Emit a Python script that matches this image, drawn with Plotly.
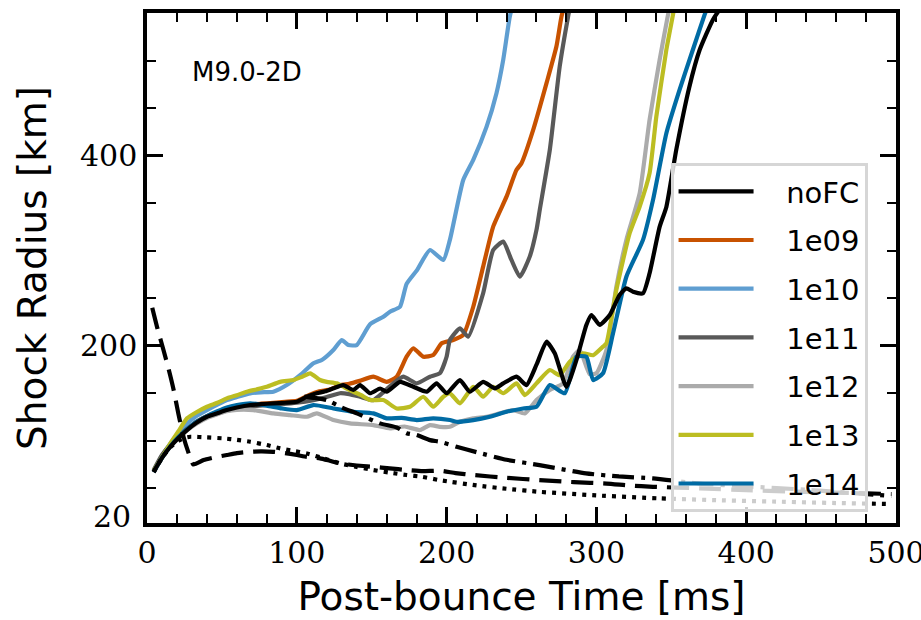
import plotly.graph_objects as go

# ---------------- data ----------------
t_nofc = [4.4, 10, 15.5, 21, 26.7, 33, 40, 47, 53.3, 60, 68.9, 76, 84.4, 92, 100, 106.7, 113.3, 119, 124.4,
          131, 137.8, 142.2, 148.9, 155.6, 160, 168.9, 177.8, 186.7, 193.3, 200, 208.9, 215.5, 224.4, 232.2,
          237.8, 246.7, 253.3, 260, 266.7, 272.2, 280, 286.7, 293.3, 296.7, 302.2, 308.9, 315.5, 320, 324.4,
          331.1, 335.5, 342.2, 346.7, 353.3, 362, 368.9, 377.8, 385]
r_nofc = [67.4, 82, 93.7, 103, 111.3, 119, 125.3, 129, 132.3, 135, 137.6, 138.5, 139.4, 140, 141, 146.3, 149.9,
          152, 155.2, 158.6, 153.4, 158.6, 150, 155, 151.6, 162, 156.8, 151.6, 160.4, 150, 163.9, 151.6, 162,
          155.2, 160.4, 167.4, 158.6, 180, 204.2, 192, 156.8, 185, 221.8, 232.3, 221.8, 232.3, 253.4, 260.4,
          256.8, 255.2, 276.2, 325, 346, 406, 472, 511, 543, 560]

t_1e09 = [4.4, 10, 15.5, 21, 26.7, 33, 40, 47, 53.3, 60, 68.9, 76, 84.4, 92, 100, 108, 115, 122, 128.9, 135, 142,
          151.1, 160, 166.7, 173.3, 177.8, 184.4, 191.1, 196.7, 204.4, 211.1, 217.8, 224.4, 231.1, 240, 246.7,
          250, 257.8, 266.7, 273.3, 276.7, 280]
r_1e09 = [67, 82.5, 94.5, 104, 112, 120, 126, 130, 133, 135.5, 138, 139, 140, 141, 142, 148, 152, 154, 158.6, 160,
          163, 167.4, 162, 167.4, 188.4, 197.3, 188.4, 190.2, 202.5, 206, 211.3, 241, 283.2, 325.3, 356.8, 385,
          392, 427, 476.2, 514.7, 546.3, 565]

t_1e10 = [4.4, 10, 15.5, 21, 26.7, 33, 40, 47, 53.3, 60, 68.9, 76, 84.4, 93.3, 102.2, 111.1, 116.7, 124.4, 130,
          134.4, 140, 148.9, 157.8, 162.2, 168.9, 173.3, 180, 188.9, 197.8, 202.2, 211.1, 217.8, 226.7, 233.3,
          237.8, 242.2, 246]
r_1e10 = [67.5, 84, 97, 108, 118, 126, 132.3, 138, 142.8, 146, 149.9, 151, 151.6, 158.6, 169, 181.5, 185, 195.5,
          206, 200.7, 200.7, 222.5, 230.5, 235.8, 241, 265, 279, 300.7, 290.2, 311.3, 374.4, 395.5, 430.5,
          465.7, 500.7, 546.3, 570]

t_1e11 = [4.4, 10, 15.5, 21, 26.7, 33, 40, 47, 53.3, 60, 68.9, 80, 90, 100, 111.1, 120, 128.9, 135, 142.2, 151,
          157, 164.4, 171.1, 180, 188.9, 195.5, 200, 202.2, 208.9, 214.4, 224.4, 231.1, 237.8, 243.3, 248.9,
          255.5, 260, 262.2, 268.9, 275.5, 281.1, 284]
r_1e11 = [69, 85, 96, 105, 112.5, 119.5, 125, 128.5, 131.5, 134, 136, 137.5, 138.5, 140, 142.8, 146, 150, 149,
          146.3, 142.8, 150, 160.4, 167.4, 160.4, 167.4, 171, 188.4, 206, 218.3, 209.5, 255.2, 300.7, 309.5,
          290.2, 272.6, 293.7, 321.8, 343, 406, 493.7, 546.3, 570]

t_1e12 = [4.4, 10, 15.5, 21, 26.7, 33, 40, 47, 53.3, 60, 71, 84.4, 95.5, 106.7, 113.3, 124.4, 135.5, 151.1,
          162.2, 172, 182.2, 188.9, 195.5, 202.2, 208.9, 217.8, 226.7, 235.5, 244.4, 252.2, 260, 268.9, 277.8,
          284.4, 288.9, 295.5, 300, 306.7, 313.3, 320, 328.9, 335.5, 342.2, 347.8, 350]
r_1e12 = [67, 82, 94, 103, 111, 118, 124, 128, 131, 132.5, 132.3, 128.8, 127, 125.3, 128.8, 121.8, 118.3, 116.5,
          113, 115, 111.3, 116.5, 114.7, 114.7, 120, 123.6, 125.3, 128.8, 132.3, 128.8, 142.8, 153.4, 160.4,
          188.4, 195.5, 170, 171, 195.5, 262, 311.3, 360.4, 437.6, 500.7, 548, 565]

t_1e13 = [4.4, 8.9, 15.5, 21, 26.7, 33, 40, 47, 53.3, 60, 66.7, 73, 80, 88.9, 97.8, 103, 108.9, 115.5, 120,
          126.7, 132, 137.8, 143, 148.9, 157.8, 166.7, 175.5, 184.4, 191.1, 197.8, 202.2, 208.9, 217.8, 224.4,
          231.1, 237.8, 246.7, 252.2, 260, 268.9, 275.5, 282.2, 291.1, 297.8, 304.4, 306.7, 313.3, 322.2, 328.9,
          335.5, 340, 346.7, 351.1, 353]
r_1e13 = [68, 79.7, 97, 110, 123.6, 130, 135.8, 140, 144.6, 148, 151.6, 154, 156.8, 162, 163.9, 167, 170.9, 163.9,
          162, 160.4, 156, 151.6, 148, 142.8, 142.8, 134, 135.8, 146.3, 135.8, 146.3, 150, 139.4, 156.8, 146.3,
          156.8, 150, 160.4, 148.1, 160.4, 174.4, 169, 183.2, 192, 190, 199, 202.5, 258.6, 318.3, 346.3, 381.5,
          441, 511.3, 548, 565]

t_1e14 = [4.4, 10, 15.5, 21, 26.7, 33, 40, 47, 53.3, 60, 68.9, 80, 90, 100, 111.1, 124.4, 137.8, 151.1, 160, 170,
          180, 191.1, 202.2, 206.7, 217.8, 228.9, 240, 251.1, 260, 268.9, 278.9, 286.7, 293.3, 297.8, 304.4,
          311.1, 320, 331.1, 337.8, 346.7, 355.5, 364.4, 372.2, 375]
r_1e14 = [67, 82, 94, 104, 112, 120, 126, 131, 135, 137.5, 139.4, 137, 134, 132.3, 137.6, 134, 130.5, 128.8,
          123.6, 124, 121.8, 123.6, 121.8, 120, 121.8, 125.3, 130.5, 134, 135.8, 158.6, 150, 188.4, 188.4, 163.9,
          171, 213, 272.6, 311.3, 353.4, 423.6, 469.2, 511.3, 548, 560]

# reference radii (black, no legend entry)
t_ref_dash = [3.5, 7, 11, 14.5, 17.8, 21, 24.4, 28, 31, 37.8, 45, 53.3, 60, 68.9, 76, 84.4, 92, 100, 107, 115.5,
              122, 128.9, 140, 151.1, 162, 173.3, 184, 195.5, 206, 217.8, 240, 262, 285, 306.7, 322, 337.8, 369,
              400, 430, 460, 497]
r_ref_dash = [240, 218, 195.5, 175, 153.4, 128, 104, 86, 75, 79.7, 82.5, 85, 87, 88.4, 88.8, 88.4, 87, 85, 83,
              81.5, 79, 76.2, 74, 72.6, 71, 69.2, 68, 68.5, 66, 64, 61, 58.6, 56.5, 55, 53, 51.6, 50, 48, 46.5,
              45.5, 44]

t_ref_dashdot = [105, 112, 120, 130, 140, 155.5, 166.7, 173.3, 180, 188.9, 195.5, 206.7, 220, 240, 262, 293, 315,
                 337.8, 369, 400, 440, 497]
r_ref_dashdot = [146.5, 145, 142.8, 135, 128.8, 118.3, 114, 108, 106, 100.7, 99, 93.7, 88, 80, 74.4, 65.7, 62.5,
                 60.4, 55, 52, 48.5, 42]

t_ref_dot = [4.5, 10, 15.5, 21, 25, 28.9, 40, 51, 60, 68.9, 80, 88.9, 97, 106.7, 118, 128.9, 140, 151.1, 162,
             173.3, 184, 195.5, 220, 240, 262, 300, 342, 380, 420, 460, 497]
r_ref_dot = [67, 82, 93, 100, 103, 104.2, 103.5, 102.5, 101, 99, 95.5, 92, 89.5, 86.7, 81.5, 76.2, 72.5, 69.2,
             66.5, 64, 62, 58.5, 53, 49.5, 46.3, 42.5, 39.4, 37.5, 36, 34.5, 33.5]

series = [
    ("1e09", t_1e09, r_1e09, "#C85200", 2),
    ("1e10", t_1e10, r_1e10, "#5F9ED1", 3),
    ("1e11", t_1e11, r_1e11, "#595959", 4),
    ("1e12", t_1e12, r_1e12, "#ABABAB", 5),
    ("1e13", t_1e13, r_1e13, "#BCBD22", 6),
    ("1e14", t_1e14, r_1e14, "#006BA4", 7),
    ("noFC", t_nofc, r_nofc, "#000000", 1),
]

fig = go.Figure()
LW = 4.2
PAD = "\u00a0\u00a0\u00a0"
for name, t, r, col, rank in series:
    fig.add_trace(go.Scatter(x=t, y=r, mode="lines", name=PAD + name, legendrank=rank, legendgroup=name,
                             line=dict(color=col, width=LW, shape="spline", smoothing=0.5)))

for t, r, dash in [(t_ref_dash, r_ref_dash, "22px,10px"),
                   (t_ref_dashdot, r_ref_dashdot, "22px,7px,4px,7px"),
                   (t_ref_dot, r_ref_dot, "4px,6px")]:
    fig.add_trace(go.Scatter(x=t, y=r, mode="lines", showlegend=False,
                             line=dict(color="black", width=LW, dash=dash, shape="spline", smoothing=0.5)))

tickfont = dict(family="DejaVu Serif", size=30, color="black")
axis_common = dict(showline=True, linewidth=3.5, linecolor="black", mirror="ticks", ticks="inside",
                   tickwidth=3, ticklen=16, tickcolor="black", showgrid=False, zeroline=False,
                   tickfont=tickfont, ticklabeloverflow="allow", automargin=False)

fig.update_layout(
    width=921, height=620,
    margin=dict(l=147, r=25, t=13, b=97),
    paper_bgcolor="white", plot_bgcolor="white",
    xaxis=dict(range=[0, 500], tickmode="linear", tick0=0, dtick=100,
               minor=dict(ticks="inside", dtick=20, tick0=0, ticklen=9, tickwidth=2, tickcolor="black"),
               title=dict(text="Post-bounce Time [ms]", font=dict(family="DejaVu Sans", size=39, color="black"),
                          standoff=15),
               **axis_common),
    yaxis=dict(range=[13.5, 550], tickmode="linear", tick0=0, dtick=200,
               minor=dict(ticks="inside", dtick=50, tick0=0, ticklen=9, tickwidth=2, tickcolor="black"),
               title=dict(text="Shock Radius [km]", font=dict(family="DejaVu Sans", size=39, color="black"),
                          standoff=22),
               **axis_common),
    legend=dict(x=0.699, y=0.706, xanchor="left", yanchor="top",
                bgcolor="rgba(255,255,255,0.8)", bordercolor="#d6d6d6", borderwidth=3,
                font=dict(family="DejaVu Sans", size=29, color="black"),
                itemwidth=75, tracegroupgap=8),
    annotations=[
        dict(text="M9.0-2D", x=0.057, y=0.885, xref="paper", yref="paper", xanchor="left", yanchor="middle",
             showarrow=False, font=dict(family="DejaVu Sans", size=26, color="black")),
        dict(text="20", x=0, y=20, xref="paper", yref="y", xanchor="right", yanchor="middle", xshift=-14,
             showarrow=False, font=tickfont),
    ],
)

fig.write_html("out.html")
